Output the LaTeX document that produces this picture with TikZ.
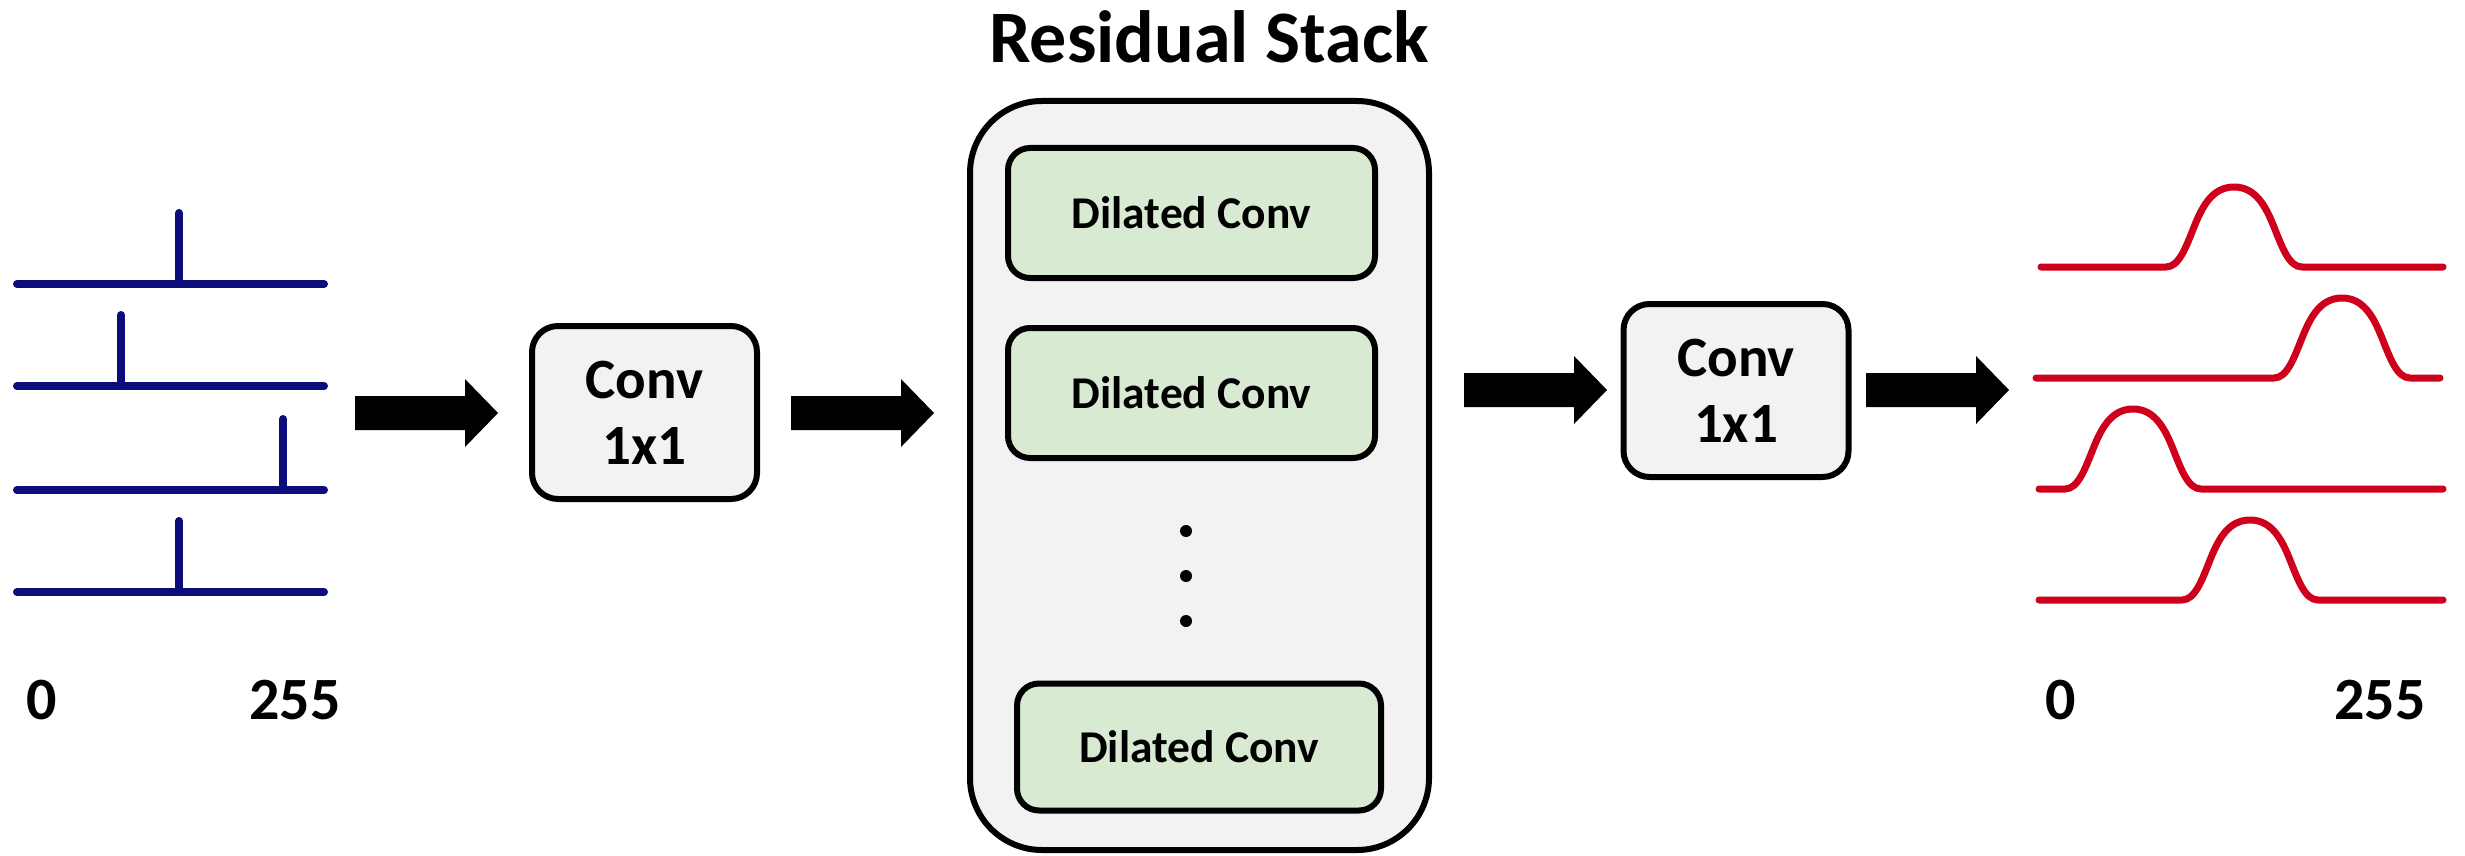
\documentclass[tikz,border=0pt]{standalone}
\usepackage{fontspec}
\setmainfont{Carlito}
\definecolor{sigblue}{RGB}{12,12,122}
\definecolor{sigred}{RGB}{206,0,28}
\definecolor{boxgray}{RGB}{242,242,242}
\definecolor{dgreen}{RGB}{217,234,211}
\tikzset{
  bluesig/.style={draw=sigblue, line width=8pt, line cap=round},
  redsig/.style={draw=sigred, line width=7pt, line cap=round, line join=round},
  convbox/.style={draw=black, line width=6pt, fill=boxgray, rounded corners=26pt,
     minimum width=225pt, minimum height=173pt, inner sep=0pt, align=center,
     font=\bfseries\fontsize{57}{66}\selectfont},
  stackbox/.style={draw=black, line width=6pt, fill=boxgray, rounded corners=72pt,
     minimum width=459pt, minimum height=749pt, inner sep=0pt},
  dilbox/.style={draw=black, line width=6pt, fill=dgreen, rounded corners=22pt,
     minimum width=367pt, minimum height=130pt, inner sep=0pt,
     font=\bfseries\fontsize{45.5}{52}\selectfont},
  axislabel/.style={inner sep=0pt, font=\bfseries\fontsize{60}{70}\selectfont},
  dotmark/.style={circle, fill=black, minimum size=12pt, inner sep=0pt},
  blockarrow/.pic={\fill[black] (0,-17) -- (110,-17) -- (110,-34) -- (143,0) -- (110,34) -- (110,17) -- (0,17) -- cycle;}
}
\newcommand\bumpline[4]{%
  \draw[redsig] (#1,#3) -- (#4-68,#3)
    .. controls (#4-55,#3) and (#4-48,#3-20) .. (#4-40,#3-40)
    .. controls (#4-32,#3-60) and (#4-22,#3-80) .. (#4,#3-80)
    .. controls (#4+22,#3-80) and (#4+32,#3-60) .. (#4+40,#3-40)
    .. controls (#4+48,#3-20) and (#4+55,#3) .. (#4+68,#3) -- (#2,#3);}
\begin{document}
\begin{tikzpicture}[x=1pt,y=-1pt]
\useasboundingbox (0,0) rectangle (2465,856);

% input one-hot signals
\foreach \yy/\xs in {284/179, 386/121, 490/283, 592/179}{
  \draw[bluesig] (17,\yy) -- (324,\yy);
  \draw[bluesig] (\xs,\yy) -- (\xs,\yy-71);
}
\node[axislabel] (inzero) at (42,700) {0};
\node[axislabel] (inmax) at (295,700) {255};

% conv 1x1 (first)
\node[convbox] (conv1) at (644.5,412.5) {Conv\\1x1};

% residual stack
\node[font=\bfseries\fontsize{74}{80}\selectfont, anchor=base, inner sep=0pt] (title) at (1209,63) {Residual Stack};
\node[stackbox] (stack) at (1199.5,475.5) {};
\node[dilbox] (d1) at (1191.5,213) {Dilated Conv};
\node[dilbox] (d2) at (1191.5,393) {Dilated Conv};
\node[dotmark] (dot1) at (1186,531) {};
\node[dotmark] (dot2) at (1186,576) {};
\node[dotmark] (dot3) at (1186,621) {};
\node[dilbox, minimum width=364pt, minimum height=127pt] (d4) at (1199,747) {Dilated Conv};

% conv 1x1 (second)
\node[convbox] (conv2) at (1736,390.5) {Conv\\1x1};

% block arrows
\coordinate (a1) at (355,413);
\coordinate (a2) at (791,413);
\coordinate (a3) at (1464,390);
\coordinate (a4) at (1866,390);
\pic at (a1) {blockarrow};
\pic at (a2) {blockarrow};
\pic at (a3) {blockarrow};
\pic at (a4) {blockarrow};

% output distributions
\bumpline{2041}{2443}{267}{2234}
\bumpline{2036}{2440}{378}{2342}
\bumpline{2039}{2443}{489}{2133}
\bumpline{2039}{2443}{600}{2250}
\node[axislabel] (outzero) at (2061,700) {0};
\node[axislabel] (outmax) at (2380,700) {255};
\end{tikzpicture}
\end{document}
